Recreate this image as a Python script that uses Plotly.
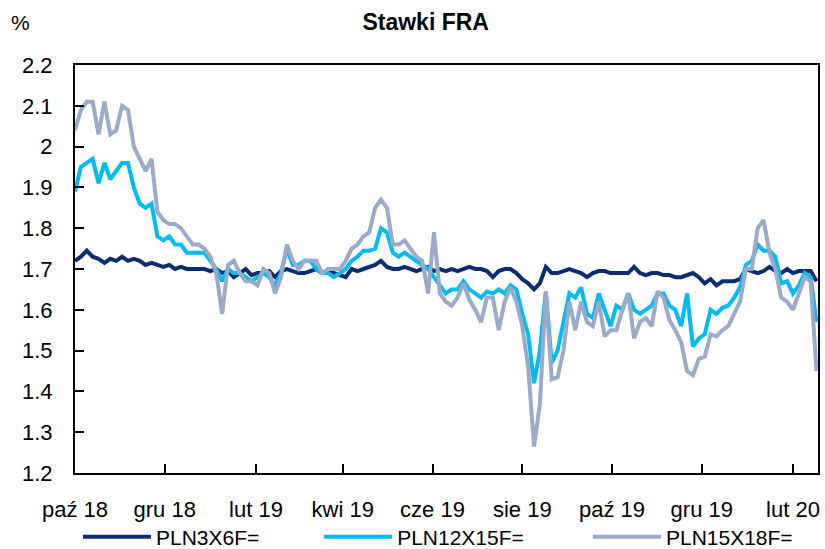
import pandas as pd
import plotly.graph_objects as go

# 4-day sampling grid starting 1 Oct 2018
dates = pd.date_range("2018-10-01", periods=127, freq="4D")

pln3x6 = [1.72, 1.73, 1.745, 1.73, 1.725, 1.715, 1.725, 1.72, 1.73, 1.72,
          1.725, 1.72, 1.71, 1.715, 1.71, 1.705, 1.71, 1.70, 1.705, 1.70,
          1.70, 1.70, 1.70, 1.695, 1.70, 1.69, 1.695, 1.68, 1.69, 1.70,
          1.685, 1.69, 1.69, 1.695, 1.68, 1.695, 1.70, 1.695, 1.69, 1.69,
          1.695, 1.70, 1.69, 1.69, 1.69, 1.685, 1.68, 1.70, 1.695, 1.70,
          1.705, 1.71, 1.72, 1.705, 1.70, 1.70, 1.705, 1.70, 1.695, 1.70,
          1.705, 1.695, 1.70, 1.695, 1.70, 1.695, 1.70, 1.705, 1.70, 1.70,
          1.695, 1.68, 1.695, 1.70, 1.70, 1.69, 1.675, 1.665, 1.65, 1.665,
          1.705, 1.69, 1.69, 1.695, 1.70, 1.695, 1.69, 1.68, 1.69, 1.695,
          1.695, 1.69, 1.69, 1.69, 1.69, 1.705, 1.69, 1.685, 1.69, 1.69,
          1.685, 1.685, 1.68, 1.68, 1.685, 1.69, 1.68, 1.665, 1.675, 1.66,
          1.67, 1.67, 1.67, 1.675, 1.70, 1.695, 1.69, 1.695, 1.705, 1.695,
          1.69, 1.70, 1.69, 1.695, 1.695, 1.695, 1.67]

pln12x15 = [1.89, 1.95, 1.96, 1.97, 1.91, 1.96, 1.92, 1.94, 1.96, 1.96,
            1.90, 1.86, 1.85, 1.86, 1.78, 1.77, 1.78, 1.76, 1.76, 1.74,
            1.74, 1.74, 1.74, 1.72, 1.70, 1.67, 1.70, 1.69, 1.69, 1.68,
            1.67, 1.68, 1.69, 1.68, 1.66, 1.69, 1.75, 1.71, 1.71, 1.72,
            1.72, 1.70, 1.69, 1.69, 1.68, 1.69, 1.70, 1.72, 1.73, 1.745,
            1.745, 1.75, 1.80, 1.79, 1.74, 1.73, 1.74, 1.73, 1.72, 1.71,
            1.70, 1.68, 1.66, 1.64, 1.65, 1.65, 1.67, 1.65, 1.64, 1.63,
            1.645, 1.64, 1.65, 1.64, 1.66, 1.65, 1.59, 1.54, 1.42, 1.50,
            1.645, 1.47, 1.50, 1.57, 1.64, 1.63, 1.655, 1.59, 1.58, 1.64,
            1.60, 1.56, 1.61, 1.60, 1.64, 1.60, 1.59, 1.60, 1.61, 1.64,
            1.64, 1.61, 1.60, 1.56, 1.64, 1.51, 1.53, 1.54, 1.60, 1.59,
            1.605, 1.61, 1.63, 1.655, 1.71, 1.72, 1.76, 1.745, 1.745, 1.73,
            1.665, 1.67, 1.64, 1.66, 1.69, 1.68, 1.57]

pln15x18 = [2.04, 2.09, 2.11, 2.11, 2.03, 2.11, 2.03, 2.04, 2.10, 2.09,
            2.00, 1.97, 1.94, 1.97, 1.84, 1.82, 1.81, 1.81, 1.80, 1.78,
            1.76, 1.76, 1.75, 1.73, 1.69, 1.59, 1.71, 1.72, 1.69, 1.67,
            1.67, 1.66, 1.70, 1.69, 1.64, 1.68, 1.76, 1.72, 1.70, 1.72,
            1.72, 1.72, 1.69, 1.70, 1.70, 1.70, 1.72, 1.75, 1.76, 1.78,
            1.79, 1.85, 1.87, 1.85, 1.76, 1.76, 1.77, 1.75, 1.73, 1.72,
            1.64, 1.79, 1.64, 1.62, 1.61, 1.63, 1.665, 1.625, 1.60, 1.57,
            1.63, 1.63, 1.55, 1.62, 1.655, 1.62, 1.56, 1.46, 1.265, 1.37,
            1.645, 1.43, 1.435, 1.50, 1.62, 1.55, 1.62, 1.57, 1.56, 1.62,
            1.535, 1.55, 1.55, 1.60, 1.64, 1.53, 1.57, 1.58, 1.56, 1.645,
            1.63, 1.575, 1.55, 1.52, 1.45, 1.44, 1.48, 1.485, 1.54, 1.535,
            1.55, 1.56, 1.59, 1.62, 1.70, 1.70, 1.80, 1.82, 1.74, 1.70,
            1.63, 1.62, 1.60, 1.64, 1.68, 1.67, 1.45]

tick_vals = ["2018-10-01", "2018-12-01", "2019-02-01", "2019-04-01", "2019-06-01",
             "2019-08-01", "2019-10-01", "2019-12-01", "2020-02-01"]
tick_text = ["paź 18", "gru 18", "lut 19", "kwi 19", "cze 19",
             "sie 19", "paź 19", "gru 19", "lut 20"]

series = [("PLN3X6F=", pln3x6, "#0b2d6e", "legend", 0.004),
          ("PLN12X15F=", pln12x15, "#00bcf0", "legend2", 0.3286),
          ("PLN15X18F=", pln15x18, "#9aaac8", "legend3", 0.6904)]

FONT = "Liberation Sans, Arial, sans-serif"

fig = go.Figure()
legends = {}
for name, vals, col, leg, lx in series:
    fig.add_trace(go.Scatter(x=dates, y=vals, mode="lines", name=name, legend=leg,
                             line=dict(color=col, width=4)))
    legends[leg] = dict(orientation="h", x=lx, xanchor="left", y=-0.157, yanchor="middle",
                        itemwidth=68, font=dict(family=FONT, size=21, color="black"),
                        bgcolor="rgba(0,0,0,0)", borderwidth=0)

fig.update_layout(
    width=825, height=549,
    margin=dict(l=75, r=7, t=65, b=76, autoexpand=False),
    paper_bgcolor="white", plot_bgcolor="white",
    font=dict(family=FONT, size=22, color="black"),
    title=dict(text="<b>Stawki FRA</b>", x=0.516, xref="container", xanchor="center",
               y=0.96, yref="container", yanchor="middle",
               font=dict(family=FONT, size=23, color="black")),
    showlegend=True,
    annotations=[dict(text="%", xref="paper", yref="paper", x=-0.073, y=1.105,
                      xanchor="center", yanchor="middle", showarrow=False,
                      font=dict(family=FONT, size=21, color="black"))],
    **legends,
)

fig.update_xaxes(type="date", range=["2018-10-01", "2020-02-18"],
                 tickvals=tick_vals, ticktext=tick_text,
                 ticks="inside", ticklen=9, tickwidth=2, tickcolor="black",
                 showline=True, linecolor="black", linewidth=2, mirror=True,
                 showgrid=False, zeroline=False, ticklabelstandoff=16)
fig.update_yaxes(range=[1.2, 2.2],
                 tickvals=[1.2, 1.3, 1.4, 1.5, 1.6, 1.7, 1.8, 1.9, 2.0, 2.1, 2.2],
                 ticktext=["1.2", "1.3", "1.4", "1.5", "1.6", "1.7", "1.8", "1.9", "2", "2.1", "2.2"],
                 ticks="inside", ticklen=9, tickwidth=2, tickcolor="black",
                 showline=True, linecolor="black", linewidth=2, mirror=True,
                 showgrid=False, zeroline=False, ticklabelstandoff=16)

fig.write_html("out.html", config={"displayModeBar": False},
               post_script="document.body.style.margin='0';document.body.style.padding='0';")
